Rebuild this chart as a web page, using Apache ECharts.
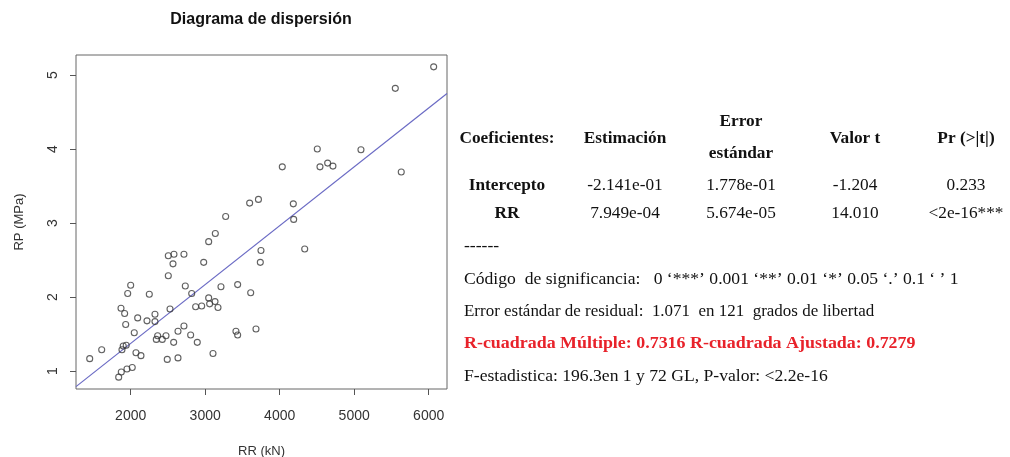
<!DOCTYPE html>
<html>
<head>
<meta charset="utf-8">
<script src="https://cdn.jsdelivr.net/npm/echarts@6/dist/echarts.min.js"></script>
<style>
html,body{margin:0;padding:0;background:#fff;}
#c{width:1010px;height:457px;}
</style>
</head>
<body>
<div id="c"></div>
<script>
// ---- data ----
const rrValues = [3597,3275,3136,3047,2505,2581,2715,2568,2980,2505,2000,1960,2250,2733,3212,3436,3611,2819,3047,3132,3060,3172,2872,2953,1870,1919,2528,2326,2094,2219,2326,1933,2715,2635,2048,2805,2362,2474,2344,2424,2577,2894,3413,3436,3682,1900,1940,1883,1611,1450,2071,2138,3105,2491,2635,1874,1950,2021,1839,3749,3740,3715,4183,4188,4336,6067,5552,4505,5091,4035,4541,4644,4715,5632];
const rpValues = [3.27,3.09,2.86,2.75,2.56,2.58,2.58,2.45,2.47,2.29,2.16,2.05,2.04,2.15,2.14,2.17,2.06,2.05,1.99,1.94,1.91,1.86,1.87,1.88,1.85,1.78,1.84,1.77,1.72,1.68,1.67,1.63,1.61,1.54,1.52,1.49,1.48,1.48,1.43,1.43,1.39,1.39,1.54,1.49,1.57,1.34,1.35,1.29,1.29,1.17,1.25,1.21,1.24,1.16,1.18,0.99,1.03,1.05,0.92,2.63,2.47,3.32,3.26,3.05,2.65,5.11,4.82,4.00,3.99,3.76,3.76,3.81,3.77,3.69];
const xTicks = [2000,3000,4000,5000,6000];
const yTicks = [1,2,3,4,5];
const fitIntercept = -0.2141;
const fitSlope = 7.949e-4;

const tableHeader = ['Coeficientes:', 'Estimación', 'Error', 'estándar', 'Valor t', 'Pr (>|t|)'];
const rowIntercept = ['Intercepto', '-2.141e-01', '1.778e-01', '-1.204', '0.233'];
const rowRR = ['RR', '7.949e-04', '5.674e-05', '14.010', '<2e-16***'];
const notes = [
  '------',
  'Código  de significancia:   0 ‘***’ 0.001 ‘**’ 0.01 ‘*’ 0.05 ‘.’ 0.1 ‘ ’ 1',
  'Error estándar de residual:  1.071  en 121  grados de libertad',
  'R-cuadrada Múltiple: 0.7316 R-cuadrada Ajustada: 0.7279',
  'F-estadistica: 196.3en 1 y 72 GL, P-valor: <2.2e-16'
];

// ---- chart ----
const xMin = 1266, xMax = 6246, yMin = 0.76, yMax = 5.27;
const points = rrValues.map((v, i) => [v, rpValues[i]]);
const fitLine = [[xMin, fitIntercept + fitSlope * xMin], [xMax, fitIntercept + fitSlope * xMax]];

const sans = '"Liberation Sans", Arial, sans-serif';
const serif = '"Liberation Serif", "Times New Roman", serif';

const colX = [507, 625, 741, 855, 966];
const graphics = [];
graphics.push({type:'text', x:261, y:20, style:{text:'Diagrama de dispersión', font:'bold 16px ' + sans, fill:'#111', textAlign:'center', textVerticalAlign:'middle'}});
// header
const headerPos = [[colX[0],139],[colX[1],139],[colX[2],122],[colX[2],154],[colX[3],139],[colX[4],139]];
tableHeader.forEach((t, i) => {
  graphics.push({type:'text', x:headerPos[i][0], y:headerPos[i][1], scaleX:1.08, style:{text:t, font:'bold 16px ' + serif, fill:'#111', textAlign:'center', textVerticalAlign:'middle'}});
});
[[rowIntercept,186],[rowRR,214]].forEach(([row, y]) => {
  row.forEach((t, i) => {
    graphics.push({type:'text', x:colX[i], y:y, scaleX:1.08, style:{text:t, font:(i === 0 ? 'bold 16px ' : '16px ') + serif, fill:'#111', textAlign:'center', textVerticalAlign:'middle'}});
  });
});
const noteY = [247, 280, 312, 344, 377];
const noteScale = [1.1, 1.1, 1.06, 1.12, 1.1];
notes.forEach((t, i) => {
  const red = i === 3;
  graphics.push({type:'text', x:464, y:noteY[i], scaleX:noteScale[i], style:{text:t, font:(red ? 'bold 16px ' : '16px ') + serif, fill: red ? '#e8222a' : '#111', textAlign:'left', textVerticalAlign:'middle'}});
});

const chart = echarts.init(document.getElementById('c'), null, {renderer:'canvas'});
chart.setOption({
  animation: false,
  backgroundColor: '#fff',
  grid: {left:76, top:55, right:563, bottom:68, containLabel:false, outerBoundsMode:'none', show:true, borderColor:'#666', borderWidth:1, backgroundColor:'#fff'},
  xAxis: {
    type:'value', min:xMin, max:xMax,
    name:'RR (kN)', nameLocation:'middle', nameGap:56,
    nameTextStyle:{fontFamily:sans, fontSize:13, color:'#333'},
    axisLine:{show:false},
    splitLine:{show:false},
    axisTick:{show:true, length:6, lineStyle:{color:'#555'}, customValues:xTicks},
    axisLabel:{customValues:xTicks, margin:20, fontFamily:sans, fontSize:14, color:'#333', formatter:(v) => String(v)}
  },
  yAxis: {
    type:'value', min:yMin, max:yMax,
    name:'RP (MPa)', nameLocation:'middle', nameGap:50,
    nameTextStyle:{fontFamily:sans, fontSize:13, color:'#333'},
    axisLine:{show:false},
    splitLine:{show:false},
    axisTick:{show:true, length:6, lineStyle:{color:'#555'}, customValues:yTicks},
    axisLabel:{customValues:yTicks, rotate:90, margin:16, fontFamily:sans, fontSize:14, color:'#333'}
  },
  series: [
    {type:'line', data:fitLine, symbol:'none', clip:true, lineStyle:{color:'#6a6ac4', width:1.2}, silent:true, z:1},
    {type:'scatter', data:points, symbol:'circle', symbolSize:6, itemStyle:{color:'rgba(255,255,255,0)', borderColor:'#3a3a3a', borderWidth:1.1}, z:2}
  ],
  graphic: graphics
});
</script>
</body>
</html>
